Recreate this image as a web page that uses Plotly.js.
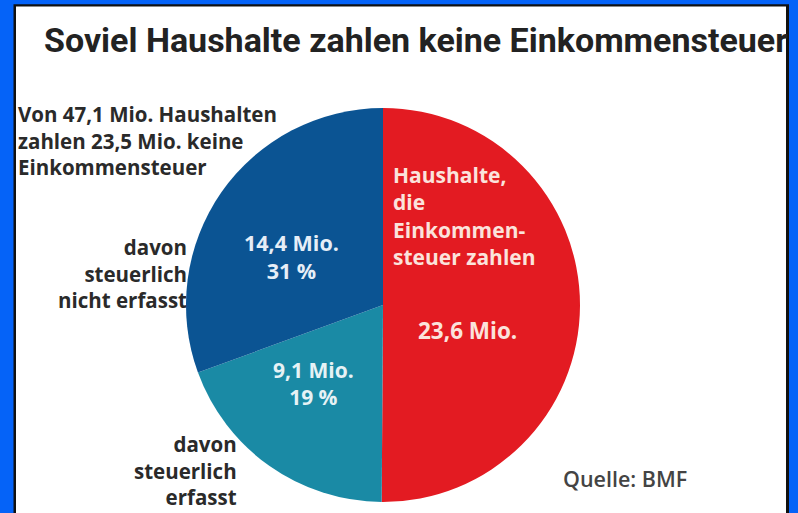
<!DOCTYPE html>
<html><head><meta charset="utf-8">
<script src="https://cdn.plot.ly/plotly-3.0.1.min.js"></script>
<style>html,body{margin:0;padding:0;background:#fff;}#chart{width:798px;height:513px;}</style>
</head><body><div id="chart"></div>
<script>
const title = 'Soviel Haushalte zahlen keine Einkommensteuer';
const categories = ['Haushalte, die Einkommensteuer zahlen', 'davon steuerlich erfasst', 'davon steuerlich nicht erfasst'];
const valuesMio = [23.6, 9.1, 14.4];
const valueLabels = ['23,6 Mio.', '9,1 Mio.', '14,4 Mio.'];
const percentLabels = ['', '19 %', '31 %'];
const sliceColors = ['#e31b22', '#1a8aa5', '#0b5493'];
const introLines = ['Von 47,1 Mio. Haushalten', 'zahlen 23,5 Mio. keine', 'Einkommensteuer'];
const redLines = ['Haushalte,', 'die', 'Einkommen-', 'steuer zahlen'];
const source = 'Quelle: BMF';

const W = 798, H = 513;
const px = x => x / W, py = y => 1 - y / H;
const FONT = '"Liberation Sans Narrow", Roboto, sans-serif';
const BODY = '"Open Sans", sans-serif';

const trace = {
  type: 'pie',
  labels: categories,
  values: valuesMio,
  sort: false,
  direction: 'clockwise',
  rotation: 0,
  textinfo: 'none',
  hoverinfo: 'none',
  showlegend: false,
  marker: {colors: sliceColors, line: {width: 0}},
  domain: {x: [px(186), px(580)], y: [py(502), py(108)]}
};

function ann(text, x, y, opts) {
  return Object.assign({
    text: text, xref: 'paper', yref: 'paper', x: px(x), y: py(y),
    showarrow: false, xanchor: 'left', yanchor: 'middle',
    font: {family: BODY, size: 19, color: '#2a2a2a', weight: 700}
  }, opts || {});
}
const dark = s => ({family: BODY, size: s, color: '#2a2a2a', weight: 700});

const annotations = [];
annotations.push(ann(title, 42, 40, {font: {family: FONT, size: 34, color: '#222', weight: 700}}));
annotations.push(ann(introLines.join('<br>'), 16, 140, {align: 'left', font: dark(20.5)}));
annotations.push(ann(categories[2].replace('davon ', 'davon<br>').replace('steuerlich ', 'steuerlich<br>'), 189, 273, {xanchor: 'right', align: 'right', font: dark(20.5)}));
annotations.push(ann(categories[1].replace('davon ', 'davon<br>').replace('steuerlich ', 'steuerlich<br>'), 239, 470, {xanchor: 'right', align: 'right', font: dark(20.5)}));
annotations.push(ann(valueLabels[2] + '<br>' + percentLabels[2], 291, 256, {xanchor: 'center', align: 'center', font: {family: BODY, size: 21.5, color: '#e6eef7', weight: 700}}));
annotations.push(ann(valueLabels[1] + '<br>' + percentLabels[1], 313, 383, {xanchor: 'center', align: 'center', font: {family: BODY, size: 21, color: '#e6f2f5', weight: 700}}));
annotations.push(ann(redLines.join('<br>'), 391, 216, {align: 'left', font: {family: BODY, size: 21, color: '#fbe3dc', weight: 700}}));
annotations.push(ann(valueLabels[0], 467, 330, {xanchor: 'center', font: {family: BODY, size: 22.5, color: '#fbe3dc', weight: 700}}));
annotations.push(ann(source, 561, 478, {font: {family: BODY, size: 21.5, color: '#444', weight: 600}}));

const shapes = [
  {type: 'rect', xref: 'paper', yref: 'paper', layer: 'below', x0: px(13.5), x1: px(789), y0: 0, y1: py(4.3), fillcolor: '#111', line: {width: 0}},
  {type: 'rect', xref: 'paper', yref: 'paper', layer: 'below', x0: px(16), x1: px(786), y0: 0, y1: py(6.5), fillcolor: '#ffffff', line: {width: 0}}
];

const layout = {
  width: W, height: H,
  margin: {l: 0, r: 0, t: 0, b: 0},
  paper_bgcolor: '#0563f8',
  showlegend: false,
  annotations: annotations,
  shapes: shapes
};

Plotly.newPlot('chart', [trace], layout, {staticPlot: true, displayModeBar: false});
</script></body></html>
